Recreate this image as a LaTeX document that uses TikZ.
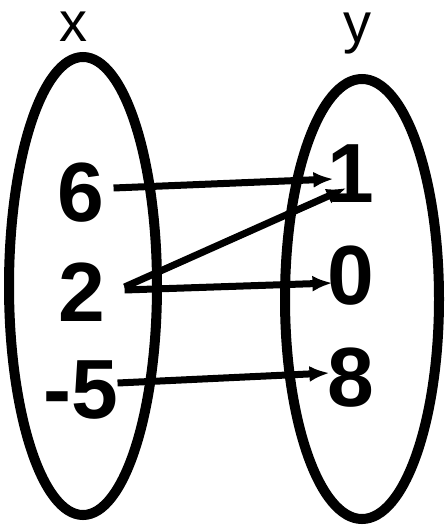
\documentclass[tikz,border=0pt]{standalone}
\usepackage{fontspec}
\setmainfont{Liberation Sans}
\usetikzlibrary{arrows.meta,shapes.geometric}

\begin{document}
\begin{tikzpicture}[x=1pt,y=-1pt,>=Latex,
  setoval/.style={draw=black,ellipse,line width=10pt,inner sep=0pt},
  elem/.style={inner sep=0pt,font=\fontsize{84}{84}\selectfont\bfseries},
  setname/.style={inner sep=0pt,anchor=base,font=\fontsize{56}{56}\selectfont},
  maparrow/.style={-{Latex[length=20pt,width=16pt]},line width=7pt}]
\useasboundingbox (0,0) rectangle (446,529);
% the two sets
\node[setoval,minimum width=148pt,minimum height=458pt] (setX) at (83,286) {};
\node[setoval,minimum width=154pt,minimum height=440pt] (setY) at (362,299) {};
\node[setname] (labX) at (73,42) {x};
\node[setname] (labY) at (357,43) {y};
% elements
\node[elem] (a6) at (81,193) {6};
\node[elem] (a2) at (82,292) {2};
\node[elem] (am5) at (81,390) {-5};
\node[elem] (b1) at (351,174) {1};
\node[elem] (b0) at (351,276) {0};
\node[elem] (b8) at (351,378) {8};
% mapping
\draw[maparrow] ([xshift=9pt,yshift=5pt]a6.east) -- ([xshift=6pt,yshift=-5pt]b1.west);
\draw[maparrow] ([xshift=19pt,yshift=5pt]a2.east) -- ([xshift=19pt,yshift=-14pt]b1.west);
\draw[maparrow] ([xshift=19pt,yshift=2pt]a2.east) -- ([xshift=5pt,yshift=-7pt]b0.west);
\draw[maparrow] ([xshift=-1pt,yshift=7pt]am5.east) -- ([xshift=2pt,yshift=5pt]b8.west);
\end{tikzpicture}
\end{document}
